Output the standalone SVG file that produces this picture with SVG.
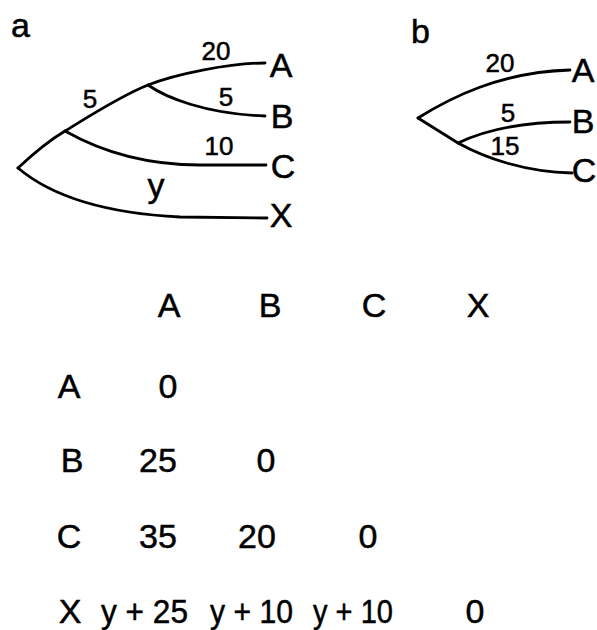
<svg xmlns="http://www.w3.org/2000/svg" width="597" height="630" viewBox="0 0 597 630">
<style>
  .br { fill: none; stroke: #000; stroke-width: 2.8; stroke-linecap: round; stroke-linejoin: round; }
  text { font-family: "Liberation Sans", Arial, sans-serif; fill: #000; stroke: #000; stroke-width: 0.5; }
  .big { font-size: 34px; }
  .sm { font-size: 26px; }
  .c { text-anchor: middle; }
</style>
<rect width="597" height="630" fill="#fff"/>

<g id="connectors">
  <!-- tree a -->
  <path class="br" d="M18,168 C35,152 50,140 65,131 S120,96 148,85 S230,63 265,63"/>
  <path class="br" d="M148,85 C165,97 205,114 265,116"/>
  <path class="br" d="M65,131 C95,148 140,165 200,165 L266,165"/>
  <path class="br" d="M18,168 C50,195 100,213 180,217 L267,218"/>
  <!-- tree b -->
  <path class="br" d="M418,118 C450,98 500,72 570,70"/>
  <path class="br" d="M418,118 L458,143 C485,158 525,172 572,173"/>
  <path class="br" d="M458,143 C485,130 520,122 570,122"/>
</g>

<g id="panel-a-label"><text class="big" x="11" y="37">a</text></g>
<g id="panel-b-label"><text class="big" x="411" y="43">b</text></g>

<g id="tree-a-leaves">
  <g id="a-A"><text class="big c" x="281" y="77">A</text></g>
  <g id="a-B"><text class="big c" x="282" y="128">B</text></g>
  <g id="a-C"><text class="big c" x="283" y="178">C</text></g>
  <g id="a-X"><text class="big c" x="281" y="227">X</text></g>
</g>
<g id="tree-a-lengths">
  <text class="sm c" x="216" y="60">20</text>
  <text class="sm c" x="90" y="108">5</text>
  <text class="sm c" x="226" y="106">5</text>
  <text class="sm c" x="219" y="155">10</text>
  <text class="big c" x="156" y="197">y</text>
</g>

<g id="tree-b-leaves">
  <g id="b-A"><text class="big c" x="583" y="82">A</text></g>
  <g id="b-B"><text class="big c" x="583" y="133">B</text></g>
  <g id="b-C"><text class="big c" x="584" y="182">C</text></g>
</g>
<g id="tree-b-lengths">
  <text class="sm c" x="500" y="72">20</text>
  <text class="sm c" x="508" y="122">5</text>
  <text class="sm c" x="505" y="155">15</text>
</g>

<g id="matrix">
  <g id="header">
    <text class="big c" x="169" y="317">A</text>
    <text class="big c" x="270" y="317">B</text>
    <text class="big c" x="374" y="317">C</text>
    <text class="big c" x="478" y="317">X</text>
  </g>
  <g id="row-A">
    <text class="big c" x="69" y="398">A</text>
    <text class="big c" x="168" y="398">0</text>
  </g>
  <g id="row-B">
    <text class="big c" x="72" y="472">B</text>
    <text class="big c" x="158" y="472">25</text>
    <text class="big c" x="266" y="472">0</text>
  </g>
  <g id="row-C">
    <text class="big c" x="69" y="548">C</text>
    <text class="big c" x="158" y="548">35</text>
    <text class="big c" x="257" y="548">20</text>
    <text class="big c" x="368" y="548">0</text>
  </g>
  <g id="row-X">
    <text class="big c" x="70" y="623">X</text>
    <text class="big" x="101" y="623" textLength="87" lengthAdjust="spacingAndGlyphs">y + 25</text>
    <text class="big" x="210" y="623" textLength="83" lengthAdjust="spacingAndGlyphs">y + 10</text>
    <text class="big" x="313" y="623" textLength="80" lengthAdjust="spacingAndGlyphs">y + 10</text>
    <text class="big c" x="475" y="623">0</text>
  </g>
</g>
</svg>
